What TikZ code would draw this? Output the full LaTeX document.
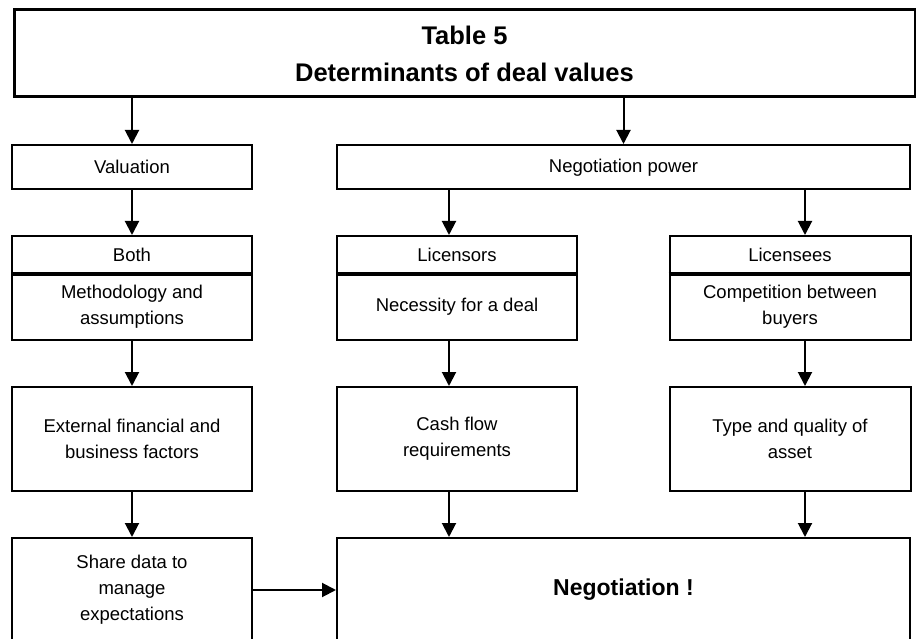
\documentclass[tikz,border=0pt]{standalone}
\usepackage{fontspec}
\setmainfont{Liberation Sans}
\usetikzlibrary{arrows.meta}

\tikzset{
  box/.style={draw, line width=2pt, align=center, inner sep=0pt,
    minimum width=240pt, font=\fontsize{18.5}{26}\selectfont},
  arr/.style={line width=2pt, -{Triangle[width=14pt,length=14pt]}},
  sepline/.style={line width=4pt}
}

\begin{document}
\begin{tikzpicture}[x=1pt, y=-1pt]
  \useasboundingbox (0,0) rectangle (916,639);
  \clip (0,0) rectangle (916,639);
  % Title
  \node[box, line width=3pt, minimum width=901pt, minimum height=87pt,
    font=\bfseries\fontsize{25.5}{37}\selectfont] (title) at (464.5,53.5)
    {Table 5\\Determinants of deal values};
  % First level
  \node[box, minimum height=44pt] (val) at (132,167) {Valuation};
  \node[box, minimum width=573pt, minimum height=44pt] (negp) at (623.5,167) {Negotiation power\strut};
  % Headers and first factors
  \node[box, minimum height=37pt] (bothh) at (132,254.5) {Both};
  \node[box, minimum height=67pt] (bothb) at (132,306.5) {Methodology and\\assumptions};
  \node[box, minimum height=37pt] (lich) at (457,254.5) {Licensors};
  \node[box, minimum height=67pt] (licb) at (457,306.5) {Necessity for a deal};
  \node[box, minimum width=241pt, minimum height=37pt] (leeh) at (790,254.5) {Licensees};
  \node[box, minimum width=241pt, minimum height=67pt] (leeb) at (790,306.5) {Competition between\\buyers};
  \draw[sepline] (bothh.south west) -- (bothh.south east);
  \draw[sepline] (lich.south west) -- (lich.south east);
  \draw[sepline] (leeh.south west) -- (leeh.south east);
  % Second factors
  \node[box, minimum height=104pt] (ext) at (132,439) {External financial and\\business factors};
  \node[box, minimum height=104pt] (cash) at (457,439) {Cash flow\\requirements};
  \node[box, minimum width=241pt, minimum height=104pt] (type) at (790,439) {Type and quality of\\asset};
  % Bottom row
  \node[box, minimum height=104pt] (share) at (132,590) {Share data to\\manage\\expectations};
  \node[box, minimum width=573pt, minimum height=104pt,
    font=\bfseries\fontsize{23}{28}\selectfont] (neg) at (623.5,590) {Negotiation !};
  % Arrows
  \draw[arr] (title.south -| val.north) -- (val.north);
  \draw[arr] (title.south -| negp.north) -- (negp.north);
  \draw[arr] (val.south) -- (bothh.north);
  \draw[arr] ([xshift=-8pt]lich.north |- negp.south) -- ([xshift=-8pt]lich.north);
  \draw[arr] ([xshift=15pt]leeh.north |- negp.south) -- ([xshift=15pt]leeh.north);
  \draw[arr] (bothb.south) -- (ext.north);
  \draw[arr] ([xshift=-8pt]licb.south) -- ([xshift=-8pt]cash.north);
  \draw[arr] ([xshift=15pt]leeb.south) -- ([xshift=15pt]type.north);
  \draw[arr] (ext.south) -- (share.north);
  \draw[arr] ([xshift=-8pt]cash.south) -- ([xshift=-8pt]cash.south |- neg.north);
  \draw[arr] ([xshift=15pt]type.south) -- ([xshift=15pt]type.south |- neg.north);
  \draw[arr] (share.east) -- (neg.west);
\end{tikzpicture}
\end{document}
